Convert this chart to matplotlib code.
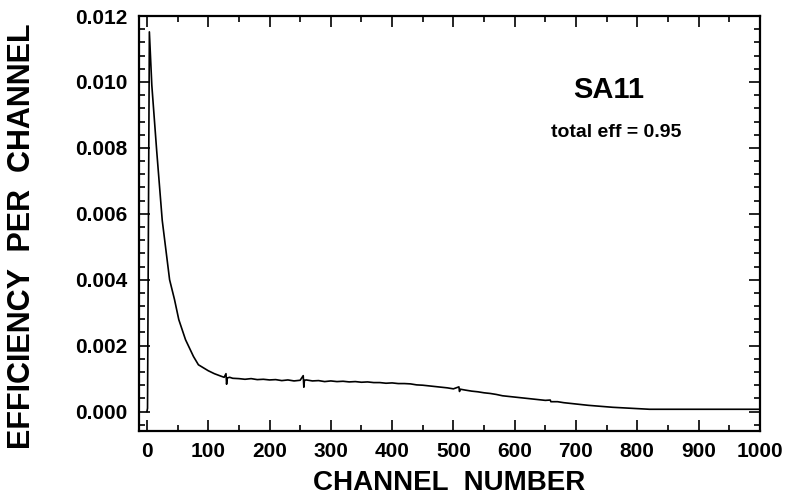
import matplotlib
matplotlib.use('Agg')
import matplotlib.pyplot as plt
from matplotlib.ticker import MultipleLocator, FormatStrFormatter

plt.rcParams['font.family'] = ['Liberation Sans', 'DejaVu Sans']
plt.rcParams['font.weight'] = 'bold'

# efficiency spectrum for detector SA11
channel = [0, 1, 4, 8, 16, 25, 31, 37, 45, 52, 63, 76, 84, 100, 110, 120, 126,
           129, 130, 131, 135, 140, 150, 160, 170, 180, 190, 200, 210, 220, 230,
           240, 250, 255, 256, 257, 260, 270, 280, 290, 300, 310, 320, 330, 340,
           350, 360, 370, 380, 390, 400, 410, 420, 430, 440, 450, 460, 470, 480,
           490, 500, 509, 510, 511, 520, 530, 540, 550, 560, 570, 580, 590, 600,
           610, 620, 630, 640, 650, 658, 659, 670, 680, 700, 720, 740, 760, 780,
           800, 820, 1000]
eff = [0.0, 0.0001, 0.01152, 0.0099, 0.0079, 0.0058, 0.0049, 0.0040, 0.0034,
       0.00279, 0.00218, 0.00167, 0.00142, 0.00124, 0.00115, 0.00108, 0.00104,
       0.00115, 0.00083, 0.00102, 0.00104, 0.00101, 0.00100, 0.00098, 0.00100,
       0.00097, 0.00098, 0.00096, 0.00097, 0.00094, 0.00096, 0.00093, 0.00095,
       0.00109, 0.00074, 0.00095, 0.00096, 0.00093, 0.00094, 0.00091, 0.00093,
       0.00091, 0.00092, 0.00090, 0.00091, 0.00089, 0.00090, 0.00088, 0.00088,
       0.00086, 0.00087, 0.00085, 0.00085, 0.00084, 0.00081, 0.00080, 0.00078,
       0.00076, 0.00074, 0.00072, 0.00069, 0.00075, 0.00061, 0.00068, 0.00065,
       0.00062, 0.00060, 0.00057, 0.00055, 0.00052, 0.00048, 0.00046, 0.00044,
       0.00042, 0.00040, 0.00038, 0.00036, 0.00034, 0.00035, 0.00030, 0.00030,
       0.00027, 0.00023, 0.00019, 0.00016, 0.00013, 0.00011, 0.00009, 0.00007,
       0.00007]

fig = plt.figure(figsize=(7.85, 5.01), dpi=100)
ax = fig.add_axes([0.177, 0.139, 0.791, 0.829])

ax.plot(channel, eff, color='black', lw=1.2)

ax.set_xlim(-13, 1000)
ax.set_ylim(-0.0006, 0.012)

ax.xaxis.set_major_locator(MultipleLocator(100))
ax.xaxis.set_minor_locator(MultipleLocator(50))
ax.yaxis.set_major_locator(MultipleLocator(0.002))
ax.yaxis.set_minor_locator(MultipleLocator(0.0004))
ax.yaxis.set_major_formatter(FormatStrFormatter('%.3f'))

ax.tick_params(which='both', direction='in', top=True, right=True,
               labelsize=15, width=1.2, pad=8)
ax.tick_params(which='major', length=8)
ax.tick_params(which='minor', length=4)
for lab in ax.get_xticklabels() + ax.get_yticklabels():
    lab.set_fontweight('bold')
for sp in ax.spines.values():
    sp.set_linewidth(1.6)

ax.set_xlabel('CHANNEL  NUMBER', fontsize=20, fontweight='bold')
ax.set_ylabel('EFFICIENCY  PER  CHANNEL', fontsize=22, fontweight='bold')
ax.xaxis.set_label_coords(0.5, -0.094)
ax.yaxis.set_label_coords(-0.164, 0.469)

ax.text(753, 0.00976, 'SA11', fontsize=21, fontweight='bold',
        ha='center', va='center')
ax.text(765, 0.00848, 'total eff = 0.95', fontsize=14, fontweight='bold',
        ha='center', va='center')

fig.savefig('out.png', dpi=100)
